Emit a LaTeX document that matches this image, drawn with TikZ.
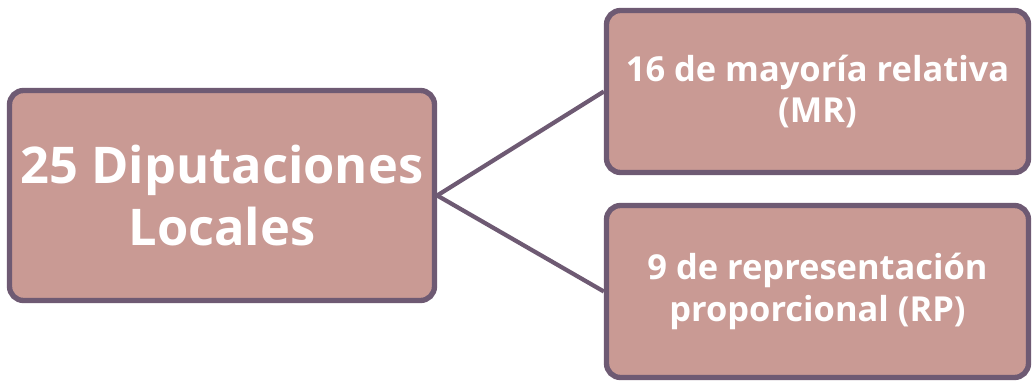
\documentclass[tikz,border=0pt]{standalone}
\usepackage{fontspec}
\setmainfont{Open Sans}
\usepackage{tikz}

\definecolor{boxfill}{HTML}{C99A94}
\definecolor{boxline}{HTML}{6E5A73}

\begin{document}
\begin{tikzpicture}[
        cargo/.style={draw=boxline, fill=boxfill, line width=3.8pt, rounded corners=10pt,
            text=white, align=center, font=\bfseries, inner sep=0pt},
        rama/.style={draw=boxline, line width=3pt}
    ]
        \useasboundingbox (0, 0) rectangle (25.85, 9.55);

        % Draw the main box
        \node[cargo, minimum width=10.625cm, minimum height=5.25cm,
            font=\bfseries\fontsize{36}{44}\selectfont] (total) at (5.55, 4.6625)
            {25 Diputaciones\\Locales};

        % Draw the two parts
        \node[cargo, minimum width=10.55cm, minimum height=4.05cm,
            font=\bfseries\fontsize{24.5}{29.5}\selectfont] (mr) at (20.4375, 7.2625)
            {16 de mayoría relativa\\(MR)};
        \node[cargo, minimum width=10.55cm, minimum height=4.3cm,
            font=\bfseries\fontsize{24.5}{29.5}\selectfont] (rp) at (20.4375, 2.2625)
            {9 de representación\\proporcional (RP)};

        % Connect them
        \draw[rama] (total.east) -- (mr.west);
        \draw[rama] (total.east) -- (rp.west);
    \end{tikzpicture}
\end{document}
